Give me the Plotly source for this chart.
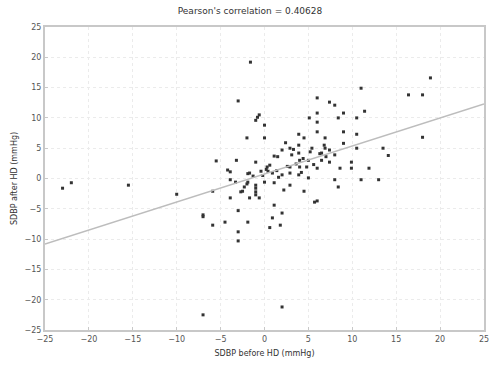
import plotly.graph_objects as go

# SDBP before HD (x) and after HD (y), mmHg
sdbp_before = [
    -23.0, -22.0, -15.5, -10.0, -7.0, -7.0, -5.9, -5.9, -5.5, -4.5, -3.9, -3.9, -3.9,
    -3.3, -3.2, -3.0, -3.0, -3.0, -3.0, -2.7, -2.5, -2.3, -2.0, -1.9, -1.9, -1.9, -1.7,
    -1.7, -1.6, -1.0, -1.0, -1.0, -1.0, -1.0, -1.0, -0.8, -0.6, -0.6, -0.2, 0.0, 0.0,
    0.0, 0.3, 0.6, 0.9, 0.9, 1.1, 1.1, 1.1, 1.8, 2.0, 2.0, 2.0, 2.2, 2.4, 2.9, 2.9,
    2.9, 2.9, 3.9, 3.9, 3.9, 3.9, 4.0, 4.0, 4.5, 4.5, 4.8, 5.0, 5.0, 5.1, 5.2, 5.4,
    5.7, 6.0, 6.0, 6.0, 6.0, 6.0, 6.0, 6.5, 6.5, 6.8, 6.9, 6.9, 7.4, 7.4, 7.4, 8.0,
    8.0, 8.0, 8.4, 8.4, 8.6, 9.0, 9.0, 9.0, 9.9, 9.9, 10.5, 10.5, 10.5, 11.0, 11.0,
    11.4, 11.9, 13.0, 13.5, 14.1, 16.4, 18.0, 18.0, 18.9, -7.0, 2.0, 0.6, 1.5, -0.4,
    3.3, 3.6, 4.4, 1.6, -2.0, -4.2, 0.4, 2.6, 3.1, 5.6, 4.2, -1.3, 1.4, 0.2, 6.3, 7.0,
]
sdbp_after = [
    -1.6, -0.7, -1.1, -2.6, -6.3, -6.0, -2.1, -7.7, 2.9, -7.2, 1.1, -0.2, -3.2,
    -0.6, 3.0, 12.8, -5.3, -8.8, -10.3, -2.2, -2.1, -1.4, 6.7, -0.6, -7.2, 0.8, 0.9,
    -3.2, 19.2, 9.6, 2.7, -1.1, -1.6, -2.7, -2.2, 10.1, 10.5, -3.2, 0.5, 8.8, 6.7,
    -0.6, 1.9, -8.1, 0.9, -6.5, 3.7, -0.7, -4.4, -7.7, 4.7, -5.7, 0.6, -1.9, 5.9, 5.0,
    1.9, 0.9, -1.1, 7.3, 5.5, 4.2, 0.6, 3.0, 1.9, 6.7, -2.1, 1.9, 3.0, 0.1, 10.0, 4.4,
    5.0, -3.9, 13.3, 10.8, 9.3, 7.7, 1.7, -3.7, 4.2, 3.0, 5.5, 6.7, 5.0, 12.6, 4.7,
    2.7, 12.1, 3.9, -0.2, 10.0, -1.4, 1.7, 10.8, 7.7, 5.8, 2.7, 1.7, 10.0, 7.3, 5.0,
    14.9, -0.2, 11.1, 1.7, -0.2, 5.0, 3.8, 13.8, 13.8, 6.8, 16.6, -22.5, -21.2, 2.2, 3.6,
    1.2, 4.8, 2.4, 3.3, 0.2, -0.9, 1.4, 1.2, 2.0, 3.9, 2.3, 1.0, 0.4, 1.3, 1.5, 4.1, 3.6,
]

# least-squares line end points
fit_x = [-25, 25]
fit_y = [-10.8, 12.3]

title_text = "Pearson's correlation = 0.40628"

fig = go.Figure()
fig.add_trace(go.Scatter(
    x=sdbp_before, y=sdbp_after, mode="markers",
    marker=dict(symbol="square", size=3, color="#333333", line=dict(width=0)),
    showlegend=False,
))
fig.add_trace(go.Scatter(
    x=fit_x, y=fit_y, mode="lines",
    line=dict(color="#bdbdbd", width=1.5),
    showlegend=False,
))

axis_common = dict(
    range=[-25, 25], dtick=5, showgrid=True, gridcolor="#ebebeb", gridwidth=1,
    griddash="dot", zeroline=False, showline=True, linecolor="#c8c8c8", linewidth=2,
    mirror=True, ticks="inside", ticklen=3, tickcolor="#c8c8c8",
    tickfont=dict(family="DejaVu Sans", size=8, color="#555555"),
)

fig.update_layout(
    width=500, height=373,
    margin=dict(l=45, r=11, t=27, b=43),
    paper_bgcolor="white", plot_bgcolor="white",
    title=dict(text=title_text, x=0.5, xref="container", y=0.97, yref="container",
               xanchor="center", yanchor="middle",
               font=dict(family="DejaVu Sans", size=9, color="#333333")),
    xaxis=dict(title=dict(text="SDBP before HD (mmHg)", standoff=8,
                          font=dict(family="DejaVu Sans", size=8, color="#333333")),
               **axis_common),
    yaxis=dict(title=dict(text="SDBP after HD (mmHg)", standoff=6,
                          font=dict(family="DejaVu Sans", size=8, color="#333333")),
               **axis_common),
)

fig.write_html("out.html")
